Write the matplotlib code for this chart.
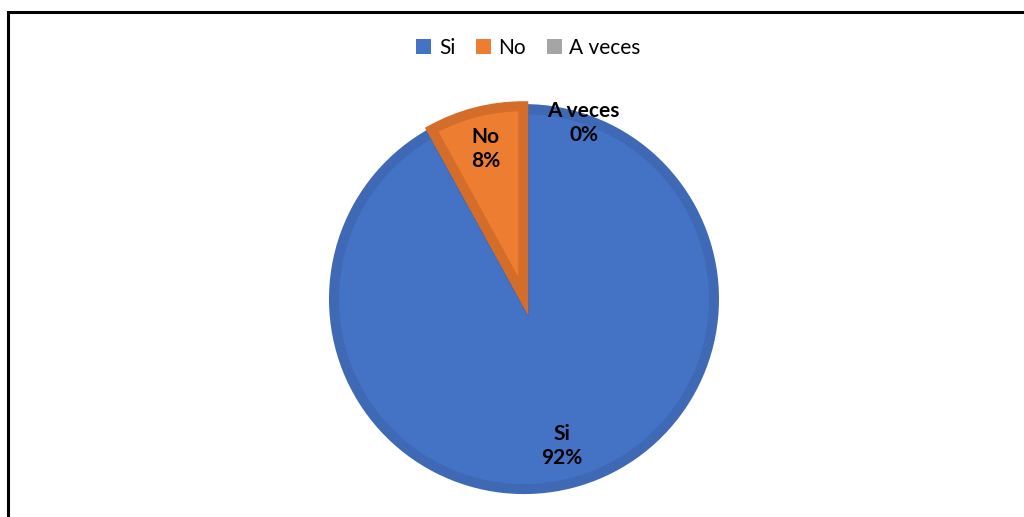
import matplotlib
matplotlib.use("Agg")
import matplotlib.pyplot as plt
from matplotlib.patches import Rectangle

# respuestas de la encuesta
categorias = ["Si", "No", "A veces"]
porcentajes = [92, 8, 0]
colores = ["#4472C4", "#ED7D31", "#A5A5A5"]
bordes = ["#3F68B5", "#D46D2A", "#A5A5A5"]

plt.rcParams['font.family'] = ['Lato', 'DejaVu Sans']

fig = plt.figure(figsize=(10.24, 5.17), dpi=100)
ax = fig.add_axes([0.2635, -0.063, 0.495, 0.98])

etiquetas = [c + "\n" + str(p) + "%" for c, p in zip(categorias, porcentajes)]
wedges, textos = ax.pie(porcentajes, colors=colores, startangle=90, counterclock=False,
                        labels=etiquetas, labeldistance=0.8, explode=[0.015, 0, 0], radius=0.975,
                        wedgeprops=dict(linewidth=7.2), textprops=dict(fontsize=15, fontweight='bold',
                                                                       ha='center', va='center',
                                                                       linespacing=1.25))
for w, b in zip(wedges, bordes):
    w.set_edgecolor(b)
# la porcion de 0% no lleva borde
wedges[2].set_linewidth(0)
# la etiqueta de 0% se desplaza a la derecha para que no quede encima
x, y = textos[2].get_position()
textos[2].set_position((x + 0.31, y + 0.11))

ax.set_xlim(-1.3, 1.3)
ax.set_ylim(-1.3, 1.3)
ax.set_aspect('equal')

fig.legend(wedges, categorias, loc='center', bbox_to_anchor=(0.516, 0.907), ncol=3,
           frameon=False, fontsize=15, handlelength=0.72, handleheight=0.72,
           handletextpad=0.35, columnspacing=1.0)
for h, c in zip(fig.legends[0].legend_handles, colores):
    h.set_edgecolor(c)
    h.set_linewidth(0)

# marco exterior
fig.patches.append(Rectangle((8 / 1024, -0.1), 1.1, 1.1 - 12 / 517, transform=fig.transFigure,
                             fill=False, edgecolor='black', linewidth=2.2))

fig.savefig("out.png", dpi=100)
